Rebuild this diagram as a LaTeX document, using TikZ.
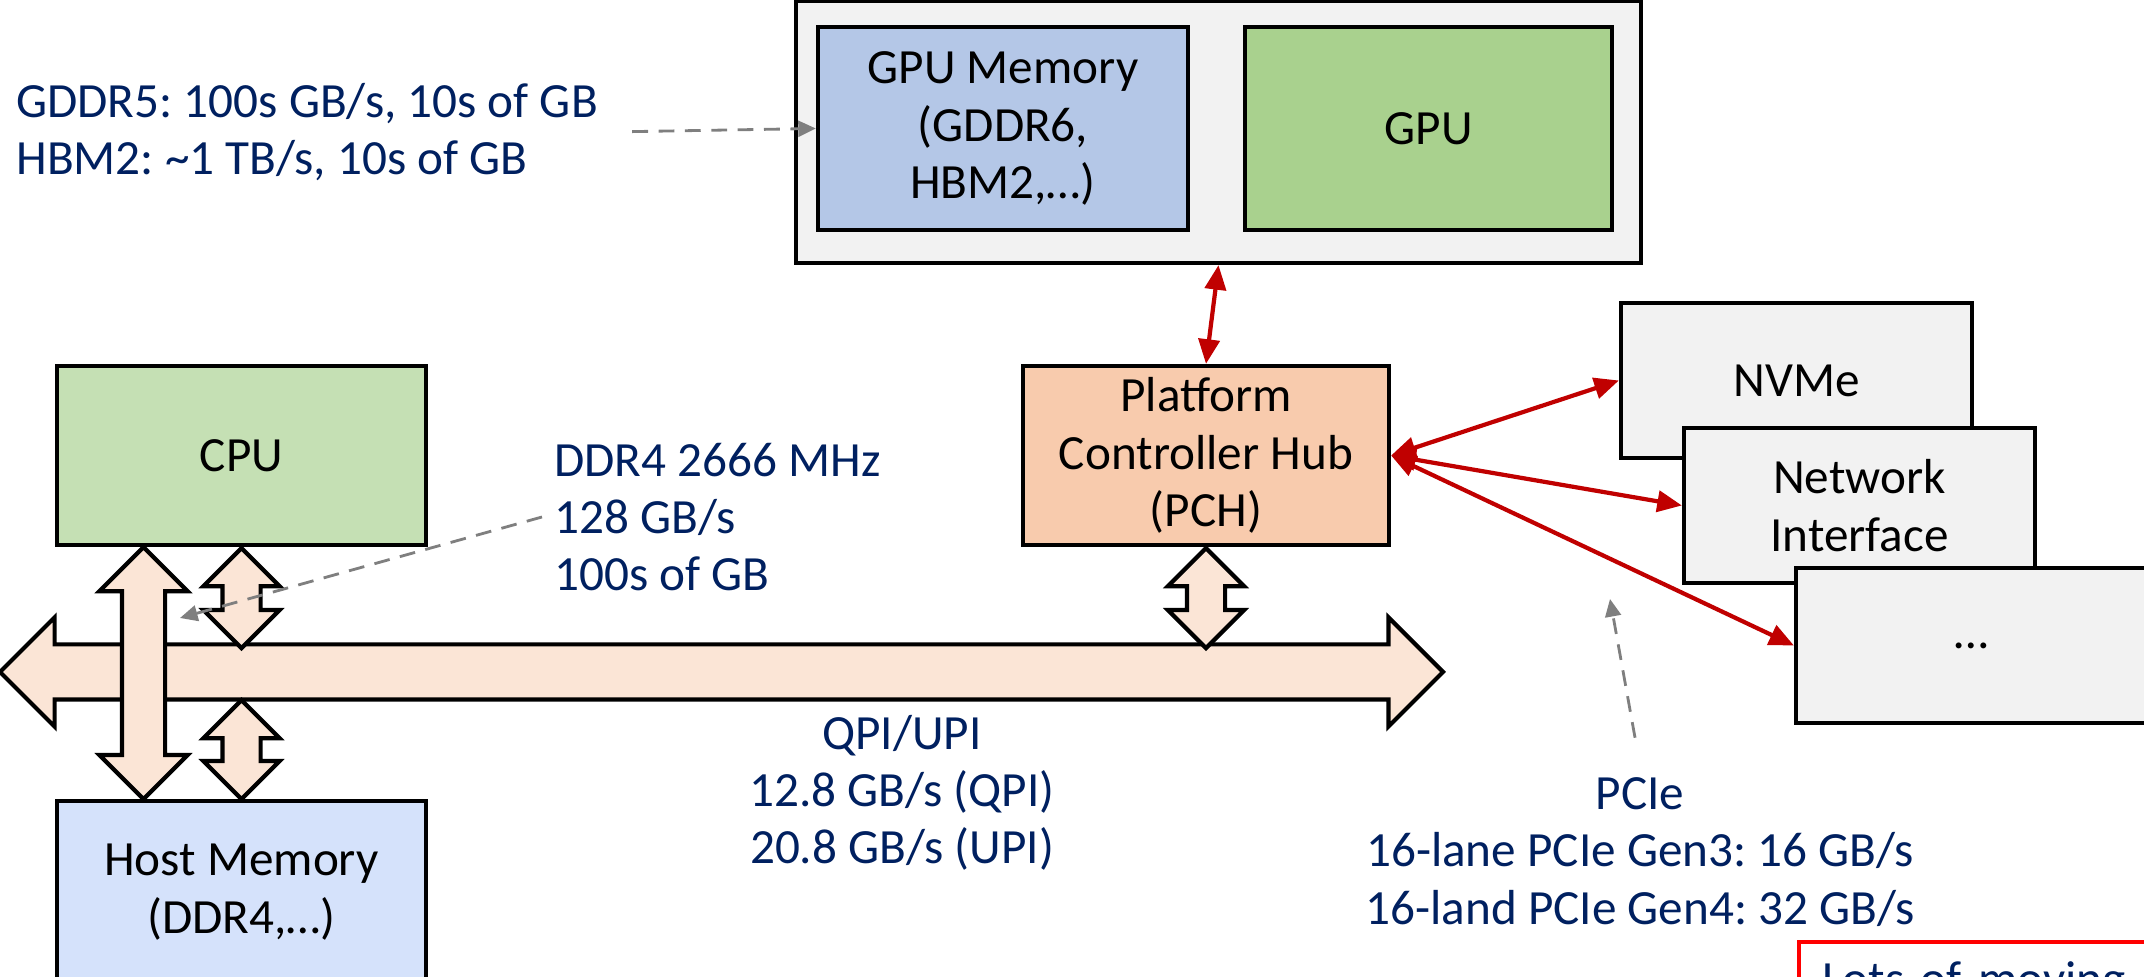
\documentclass[tikz,border=0pt]{standalone}
\usepackage{fontspec}
\setmainfont{Carlito}
\usetikzlibrary{positioning,arrows.meta,calc,shapes.arrows}
\definecolor{panelgray}{HTML}{F2F2F2}
\definecolor{gpumemblue}{HTML}{B4C7E7}
\definecolor{gpugreen}{HTML}{A9D18E}
\definecolor{cpugreen}{HTML}{C5E0B4}
\definecolor{hostblue}{HTML}{D5E2FB}
\definecolor{pchorange}{HTML}{F8CBAD}
\definecolor{busfill}{HTML}{FBE5D6}
\definecolor{notenavy}{HTML}{002060}
\definecolor{linkred}{HTML}{C00000}
\definecolor{hintgray}{HTML}{7F7F7F}
\frenchspacing

\begin{document}
\begin{tikzpicture}[
  font=\fontsize{14}{16.3}\selectfont,
  box/.style={draw=black, line width=1.2pt, align=center, inner sep=0pt},
  note/.style={text=notenavy, align=left},
  bus/.style={double arrow, draw=black, line width=1.2pt, fill=busfill, inner xsep=0pt, double arrow tip angle=90},
  redlink/.style={{Triangle[length=7pt,width=6pt]}-{Triangle[length=7pt,width=6pt]}, line width=1.2pt, color=linkred},
  hint/.style={-{Triangle[length=5pt,width=4.5pt]}, line width=0.8pt, color=hintgray, dash pattern=on 4.5pt off 3pt}
]
\useasboundingbox (0,0) rectangle (21.44,-9.77);
\clip (0,0) rectangle (21.44,-9.77);

% GPU card
\node[box, fill=panelgray, minimum width=8.45cm, minimum height=2.62cm] (gpubox) at (12.185,-1.32) {};
\node[box, fill=gpumemblue, minimum width=3.7cm, minimum height=2.03cm] (gpumem) at (10.03,-1.285) {GPU Memory\\(GDDR6,\\HBM2,…)};
\node[box, fill=gpugreen, minimum width=3.67cm, minimum height=2.03cm, right=0.53cm of gpumem] (gpu) {GPU};

% host side
\node[box, fill=cpugreen, minimum width=3.69cm, minimum height=1.79cm] (cpu) at (2.415,-4.555) {CPU};
\node[box, fill=hostblue, minimum width=3.69cm, minimum height=1.82cm, below=2.52cm of cpu] (host) {Host Memory\\(DDR4,…)};
\node[box, fill=pchorange, minimum width=3.66cm, minimum height=1.79cm] (pch) at (12.06,-4.555) {Platform\\Controller Hub\\(PCH)};

% devices
\node[box, fill=panelgray, minimum width=3.51cm, minimum height=1.55cm] (nvme) at (17.965,-3.805) {NVMe};
\node[box, fill=panelgray, minimum width=3.51cm, minimum height=1.55cm] (netif) at (18.595,-5.055) {Network\\Interface};
\node[box, fill=panelgray, minimum width=3.51cm, minimum height=1.55cm] (more) at (19.715,-6.455) {…};

% buses
\node[bus, minimum height=14.43cm, inner ysep=0.255cm, double arrow head extend=0.27cm] (qpi) at (7.215,-6.72) {};
\node[bus, rotate=90, minimum height=2.52cm, inner ysep=0.195cm, double arrow head extend=0.225cm] (cpuhostbus) at ($(cpu.south)!0.5!(host.north)+(-0.98,0)$) {};
\node[bus, rotate=90, minimum height=1.0cm, inner ysep=0.17cm, double arrow head extend=0.19cm] (cpubus) at ($(cpu.south)+(0,-0.51)$) {};
\node[bus, rotate=90, minimum height=0.99cm, inner ysep=0.17cm, double arrow head extend=0.19cm] (hostbus) at ($(host.north)+(0,0.495)$) {};
\node[bus, rotate=90, minimum height=1.0cm, inner ysep=0.17cm, double arrow head extend=0.19cm] (pchbus) at ($(pch.south)+(0,-0.51)$) {};

% PCIe links
\draw[redlink] (pch.north) -- (gpubox.south);
\draw[redlink] (pch.east) -- (nvme.west);
\draw[redlink] (pch.east) -- (netif.west);
\draw[redlink] (pch.east) -- (more.west);

% notes
\node[note, anchor=west] (gddrnote) at (0.04,-1.32) {GDDR5: 100s GB/s, 10s of GB\\HBM2: \textasciitilde1 TB/s, 10s of GB};
\draw[hint, shorten <=0.22cm] (gddrnote.east) -- (gpumem.west);

\node[note, anchor=west] (ddrnote) at (5.42,-5.17) {DDR4 2666 MHz\\128 GB/s\\100s of GB};
\coordinate (ddrtip) at (1.80,-6.18);
\draw[hint] (ddrnote.west) -- (ddrtip);

\node[note, align=center] (qpinote) at (9.02,-7.93) {QPI/UPI\\12.8 GB/s (QPI)\\20.8 GB/s (UPI)};

\node[note, align=center] (pcienote) at (16.40,-8.52) {PCIe\\16-lane PCIe Gen3: 16 GB/s\\16-land PCIe Gen4: 32 GB/s};
\coordinate (pcietip) at (16.10,-5.99);
\draw[hint, shorten <=0.28cm] (pcienote.north) -- (pcietip);

\node[draw=red, line width=1.2pt, anchor=north west, text width=3.6cm, align=left, inner xsep=0.23cm, inner ysep=0.2cm, text=notenavy] (movingnote) at (17.97,-9.40) {Lots of moving};
\end{tikzpicture}
\end{document}
